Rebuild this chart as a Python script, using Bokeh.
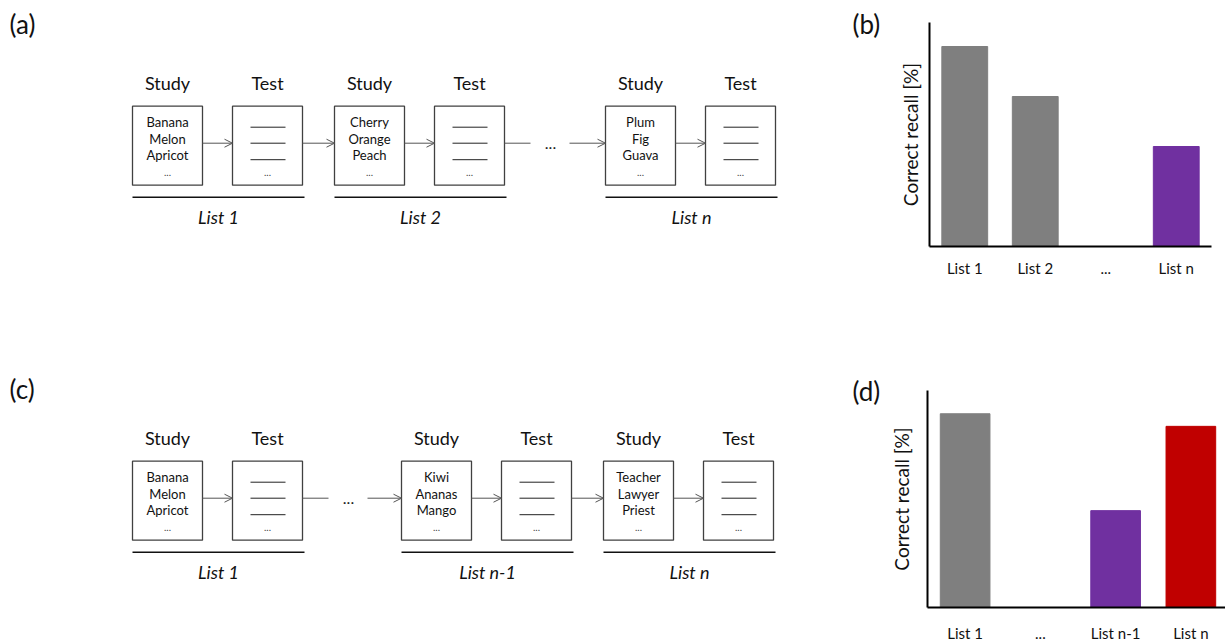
from bokeh.plotting import figure
from bokeh.layouts import row, column
from bokeh.models import Range1d, Arrow, OpenHead, FixedTicker
from bokeh.core.properties import value
from bokeh.embed import file_html
from bokeh.resources import INLINE

FONT = "Lato"

# ---------------- data ----------------
panel_labels = ["(a)", "(b)", "(c)", "(d)"]
phases = ["Study", "Test"]
top_lists = ["List 1", "List 2", "List n"]
top_words = [["Banana", "Melon", "Apricot"],
             ["Cherry", "Orange", "Peach"],
             ["Plum", "Fig", "Guava"]]
bottom_lists = ["List 1", "List n-1", "List n"]
bottom_words = [["Banana", "Melon", "Apricot"],
                ["Kiwi", "Ananas", "Mango"],
                ["Teacher", "Lawyer", "Priest"]]
recall_label = "Correct recall [%]"

b_categories = ["List 1", "List 2", "...", "List n"]
b_recall = [100, 75, None, 50]
b_colors = ["#7f7f7f", "#7f7f7f", "#7f7f7f", "#7030a0"]

d_categories = ["List 1", "...", "List n-1", "List n"]
d_recall = [100, None, 50, 93.5]
d_colors = ["#7f7f7f", "#7f7f7f", "#7030a0", "#c00000"]

# ---------------- layout constants (page pixels) ----------------
PAGE_L, PAGE_R = 0, 1225
SPLIT = 886
LEFT_W = SPLIT - PAGE_L
RIGHT_W = PAGE_R - SPLIT
ROW_H = 322
BOX_W, BOX_H, TEST_DX = 70, 79, 100
WORD_DY = [16, 32.5, 49]
LINE_DY = [21, 37, 53.5]
ARROW_DY = 37
BOX_LINE = "#404040"


def no_align(p):
    try:
        p.frame_align = False
    except Exception:
        pass


def diagram(page_top, y0, x0s, lists, words, ellipsis_after, tags):
    p = figure(width=LEFT_W, height=ROW_H,
               x_range=Range1d(PAGE_L, SPLIT), y_range=Range1d(page_top + ROW_H, page_top),
               output_backend="svg", toolbar_location=None, title=None,
               x_axis_location=None, y_axis_location=None, min_border=0)
    no_align(p)
    p.grid.visible = False
    p.outline_line_color = None

    lefts = []
    for x0 in x0s:
        lefts += [x0, x0 + TEST_DX]
    p.quad(left=lefts, right=[l + BOX_W for l in lefts], top=y0, bottom=y0 + BOX_H,
           fill_color="white", line_color=BOX_LINE, line_width=1.3)

    # headers
    hx, hy, ht = [], [], []
    for x0 in x0s:
        for k, ph in enumerate(phases):
            hx.append(x0 + k * TEST_DX + BOX_W / 2)
            hy.append(y0 - 23)
            ht.append(ph)
    p.text(x=hx, y=hy, text=ht, text_align="center", text_baseline="middle",
           text_font=value(FONT), text_font_size="18px", text_color="#111111")

    # study words
    wx, wy, wt = [], [], []
    for x0, ws in zip(x0s, words):
        for j, w in enumerate(ws):
            wx.append(x0 + BOX_W / 2)
            wy.append(y0 + WORD_DY[j])
            wt.append(w)
    p.text(x=wx, y=wy, text=wt, text_align="center", text_baseline="middle",
           text_font=value(FONT), text_font_size="13px", text_color="#111111")

    # small ellipses in boxes
    ex, ey = [], []
    for x0 in x0s:
        ex += [x0 + BOX_W / 2, x0 + TEST_DX + BOX_W / 2]
        ey += [y0 + 66, y0 + 66]
    p.text(x=ex, y=ey, text=["..."] * len(ex), text_align="center", text_baseline="middle",
           text_font=value(FONT), text_font_size="10px", text_color="#444444")

    # test blanks
    sx0, sx1, sy = [], [], []
    for x0 in x0s:
        for dy in LINE_DY:
            sx0.append(x0 + TEST_DX + 18)
            sx1.append(x0 + TEST_DX + 53)
            sy.append(y0 + dy)
    p.segment(x0=sx0, y0=sy, x1=sx1, y1=sy, line_color="#222222", line_width=1)

    # underlines and list labels
    p.segment(x0=list(x0s), y0=y0 + 91, x1=[x + 172 for x in x0s], y1=y0 + 91,
              line_color="#111111", line_width=1.4)
    p.text(x=[x + 86 for x in x0s], y=[y0 + 111] * len(x0s), text=lists,
           text_align="center", text_baseline="middle", text_font=value(FONT),
           text_font_size="18px", text_font_style="italic", text_color="#111111")

    # arrows
    ay = y0 + ARROW_DY
    head = dict(size=8, line_color="#555555", line_width=1)

    def arrow(xa, xb):
        p.add_layout(Arrow(end=OpenHead(**head), x_start=xa, y_start=ay, x_end=xb, y_end=ay,
                           line_color="#555555", line_width=1))

    for i, x0 in enumerate(x0s):
        arrow(x0 + BOX_W, x0 + TEST_DX)
        if i + 1 < len(x0s):
            xa = x0 + TEST_DX + BOX_W
            xb = x0s[i + 1]
            if i == ellipsis_after:
                p.segment(x0=[xa], y0=[ay], x1=[xa + 26], y1=[ay], line_color="#555555", line_width=1)
                p.text(x=[xa + 46], y=[ay], text=["..."], text_align="center", text_baseline="middle",
                       text_font=value(FONT), text_font_size="16px", text_color="#222222")
                arrow(xa + 65, xb)
            else:
                arrow(xa, xb)

    # panel labels
    p.text(x=[t[0] for t in tags], y=[t[1] for t in tags], text=[t[2] for t in tags],
           text_align="left", text_baseline="middle", text_font=value(FONT),
           text_font_size="26px", text_color="#111111")
    return p


def recall_chart(cats, vals, colors, page_top, frame_l, frame_r, frame_t, frame_b,
                 cat_px, bar_w, label_standoff, tick_standoff):
    x_end = -0.5 + (frame_r - frame_l) / cat_px
    p = figure(width=RIGHT_W, height=ROW_H,
               x_range=Range1d(-0.5, x_end), y_range=Range1d(0, 112),
               output_backend="svg", toolbar_location=None, title=None,
               min_border_left=frame_l - SPLIT, min_border_right=PAGE_R - frame_r,
               min_border_top=frame_t - page_top, min_border_bottom=page_top + ROW_H - frame_b)
    no_align(p)
    p.grid.visible = False
    p.outline_line_color = None
    idx = [i for i, v in enumerate(vals) if v is not None]
    p.vbar(x=idx, top=[vals[i] for i in idx], bottom=0, width=bar_w,
           fill_color=[colors[i] for i in idx], line_color=[colors[i] for i in idx])

    for ax in (p.xaxis[0], p.yaxis[0]):
        ax.axis_line_width = 2
        ax.axis_line_color = "black"
        ax.major_tick_in = 0
        ax.major_tick_out = 0
        ax.minor_tick_in = 0
        ax.minor_tick_out = 0
    p.yaxis.ticker = FixedTicker(ticks=[])
    p.yaxis.axis_label = recall_label
    p.yaxis.axis_label_text_font = FONT
    p.yaxis.axis_label_text_font_style = "normal"
    p.yaxis.axis_label_text_font_size = "19px"
    p.yaxis.axis_label_text_color = "#111111"
    p.yaxis.axis_label_standoff = label_standoff
    p.xaxis.ticker = FixedTicker(ticks=list(range(len(cats))), minor_ticks=[])
    p.xaxis.major_label_overrides = {i: c for i, c in enumerate(cats)}
    p.xaxis.major_label_text_font = FONT
    p.xaxis.major_label_text_font_size = "15px"
    p.xaxis.major_label_text_color = "#111111"
    p.xaxis.major_label_standoff = tick_standoff
    return p


pa = diagram(0, 105.7, [132, 334, 605], top_lists, top_words, 1,
             [(9, 23, panel_labels[0]), (852, 23, panel_labels[1])])
pc = diagram(322, 460.7, [132, 401, 603], bottom_lists, bottom_words, 0,
             [(9, 388, panel_labels[2]), (852, 390, panel_labels[3])])
pb = recall_chart(b_categories, b_recall, b_colors, 0, 929, 1211, 22, 246, 70.5, 0.65, 8, 12)
pd_ = recall_chart(d_categories, d_recall, d_colors, 322, 926, 1225, 390, 614, 75.5, 0.66, 15, 16)

layout = column(row(pa, pb, spacing=0), row(pc, pd_, spacing=0), spacing=0)

open("out.html", "w").write(file_html(layout, INLINE))
